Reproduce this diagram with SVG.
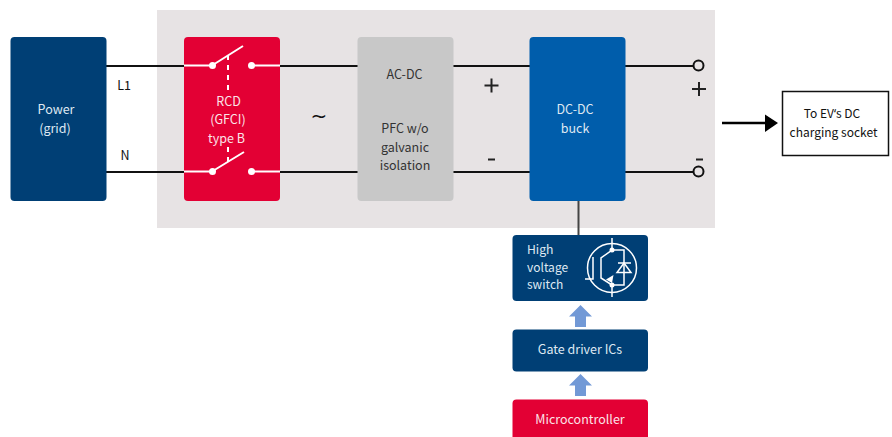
<svg xmlns="http://www.w3.org/2000/svg" width="892" height="437" viewBox="0 0 892 437">
<style>
text{font-family:"Noto Sans CJK SC","Noto Sans",sans-serif;font-size:12.5px;text-anchor:middle}
.w{fill:#dfe8f2}.p{fill:#fbe3e8}.d{fill:#333}.k{fill:#111}
.l{stroke:#111;stroke-width:2;fill:none}
.s{stroke:#fff;stroke-width:2;fill:none}
.sd{stroke:#fff;stroke-width:2;fill:none;stroke-dasharray:5 5}
.i{stroke:#fff;stroke-width:1.500;fill:none}
.up{fill:#7299d6}
</style>
<rect x="157" y="10" width="558" height="218" fill="#e7e3e4"/>
<g id="connectors">
<path class="l" d="M106 66H184M106 172H184M280 66H358M280 172H358M453 66H530M453 172H530M625 66H693M625 172H693"/>
<path d="M578.500 200V236" stroke="#444" stroke-width="2" fill="none"/>
<circle cx="698.500" cy="65.500" r="5" fill="none" stroke="#111" stroke-width="2"/>
<circle cx="698.500" cy="171.500" r="5" fill="none" stroke="#111" stroke-width="2"/>
<path d="M722 123H766" stroke="#000" stroke-width="2.500"/>
<path d="M765 114.500L778 123L765 132Z" fill="#000"/>
<path class="up" d="M575 327V316.500H569L580.500 305L592 316.500H586V327Z"/>
<path class="up" d="M575 396V385.500H569L580.500 374L592 385.500H586V396Z"/>
</g>
<g id="power"><rect x="10.500" y="37" width="96" height="164" rx="4" fill="#003f75"/>
<text class="w" x="56" y="114">Power</text><text class="w" x="55" y="133">(grid)</text></g>
<g id="labels"><text class="k" x="124" y="90">L1</text><text class="k" x="125" y="160">N</text>
<text class="k" x="319" y="122.500" style="font-family:'DejaVu Sans',sans-serif;font-size:20px">~</text>
<path d="M484.500 85.500H498.500M491.500 78.500V92.500" stroke="#222" stroke-width="2" fill="none"/>
<path d="M488 159.500H495" stroke="#222" stroke-width="2" fill="none"/>
<path d="M692 89H706M699 82V96" stroke="#222" stroke-width="2" fill="none"/>
<path d="M696 159.500H703" stroke="#222" stroke-width="2" fill="none"/></g>
<g id="rcd"><rect x="184" y="37" width="96" height="164" rx="4" fill="#e30034"/>
<path class="s" d="M184 65.500H212M252 65.500H280M184 171.500H212M252 171.500H280M212 65.500L243 46M212 171.500L244 152"/>
<circle cx="212.500" cy="65.500" r="3.500" fill="#fff"/><circle cx="251.500" cy="65.500" r="3.500" fill="#fff"/>
<circle cx="212.500" cy="171.500" r="3.500" fill="#fff"/><circle cx="251.500" cy="171.500" r="3.500" fill="#fff"/>
<path class="sd" d="M228 55V93M228 147V162"/>
<text class="p" x="228.500" y="106">RCD</text><text class="p" x="228" y="124">(GFCI)</text><text class="p" x="226.500" y="143">type B</text></g>
<g id="acdc"><rect x="357.500" y="37" width="96" height="164" rx="4" fill="#c8c8c8"/>
<text class="d" x="404.500" y="79">AC-DC</text><text class="d" x="405" y="133">PFC w/o</text><text class="d" x="405" y="152">galvanic</text><text class="d" x="405" y="170">isolation</text></g>
<g id="dcdc"><rect x="529.500" y="37" width="96" height="164" rx="4" fill="#005dab"/>
<text class="w" x="575" y="114">DC-DC</text><text class="w" x="575" y="133">buck</text></g>
<g id="socket"><rect x="782.500" y="91.500" width="106" height="64" fill="#fff" stroke="#111" stroke-width="1.500"/>
<text class="k" x="832" y="118" style="font-size:12px">To EV<tspan style="font-family:'Noto Sans',sans-serif">‘</tspan>s DC</text><text class="k" x="833.500" y="137" style="font-size:12px">charging socket</text></g>
<g id="hvswitch"><rect x="512.500" y="235" width="135.500" height="66" rx="4" fill="#003f75"/>
<text class="w" x="527" y="254" style="text-anchor:start;font-size:12.200px">High</text><text class="w" x="527" y="271.500" style="text-anchor:start;font-size:12px">voltage</text><text class="w" x="527" y="289" style="text-anchor:start;font-size:12px">switch</text>
<circle class="i" cx="612" cy="268" r="24.500"/>
<path class="i" d="M612 238V250L601 258V278L612 285V297M593 257V279H585M612 250H624V285H612M618 263H631M624 250V263M624 272V285"/>
<path class="i" d="M617 272.500H631L624 263Z"/>
<path d="M606 279.500L613.500 275L612 283Z" fill="#fff"/>
<circle cx="612" cy="250" r="2.500" fill="#fff"/><circle cx="612" cy="285" r="2.500" fill="#fff"/></g>
<g id="gate"><rect x="512.500" y="329.500" width="135.500" height="42" rx="4" fill="#003f75"/>
<text class="w" x="580" y="354">Gate driver ICs</text></g>
<g id="mcu"><path d="M516.500 399.500H644a4 4 0 0 1 4 4V437H512.500V403.500a4 4 0 0 1 4-4Z" fill="#e30034"/>
<text class="p" x="580" y="424">Microcontroller</text></g>
</svg>
